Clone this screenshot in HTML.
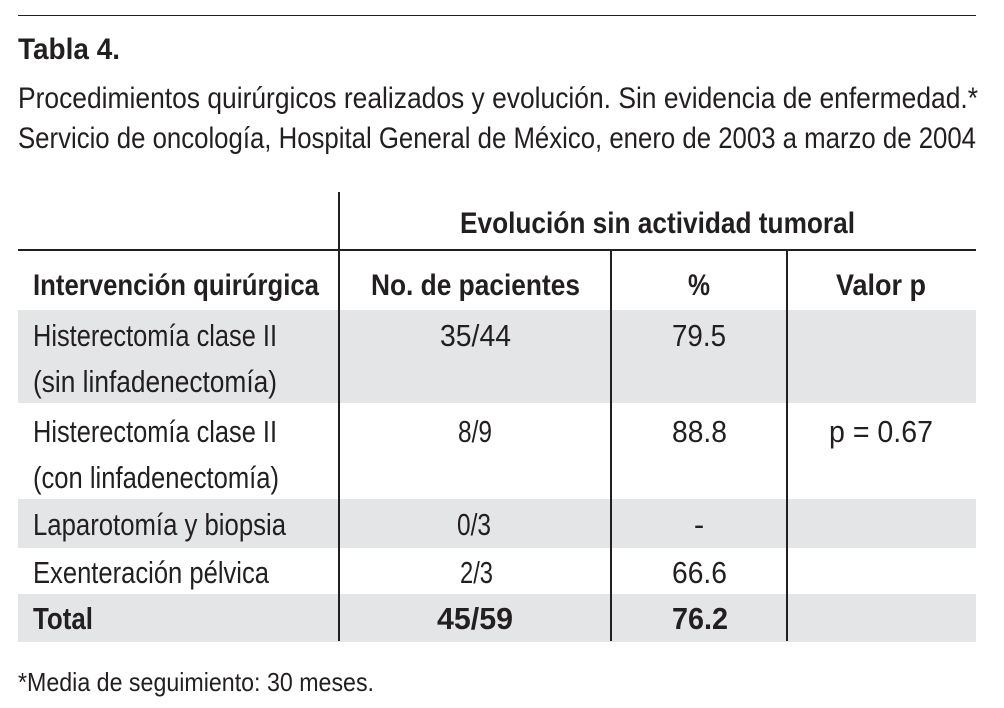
<!DOCTYPE html>
<html><head><meta charset="utf-8"><style>
html,body{margin:0;padding:0;background:#fff;}
svg{display:block;}
text{font-family:"Liberation Sans",sans-serif;fill:#231f20;}
.b{font-weight:bold;}
</style></head><body>
<svg width="1004" height="708" viewBox="0 0 1004 708">
<line x1="18" y1="15.5" x2="976" y2="15.5" stroke="#231f20" stroke-width="1"/>
<text class="b" x="18" y="59" font-size="30" textLength="102" lengthAdjust="spacingAndGlyphs">Tabla 4.</text>
<text x="18" y="108" font-size="30" textLength="960" lengthAdjust="spacingAndGlyphs">Procedimientos quirúrgicos realizados y evolución. Sin evidencia de enfermedad.*</text>
<text x="18" y="148" font-size="30" textLength="958" lengthAdjust="spacingAndGlyphs">Servicio de oncología, Hospital General de México, enero de 2003 a marzo de 2004</text>

<g>
<rect x="18" y="310" width="958" height="93" fill="#e4e5e7"/>
<rect x="18" y="499" width="958" height="49" fill="#e4e5e7"/>
<rect x="18" y="594" width="958" height="48" fill="#e4e5e7"/>
</g>
<g stroke="#231f20" stroke-width="2">
<line x1="18" y1="250" x2="976" y2="250"/>
<line x1="339" y1="192" x2="339" y2="641"/>
<line x1="611" y1="250" x2="611" y2="641"/>
<line x1="787" y1="250" x2="787" y2="641"/>
</g>

<text class="b" x="460" y="233" font-size="30" textLength="395" lengthAdjust="spacingAndGlyphs">Evolución sin actividad tumoral</text>
<text class="b" x="33" y="295" font-size="30" textLength="286" lengthAdjust="spacingAndGlyphs">Intervención quirúrgica</text>
<text class="b" x="371" y="295" font-size="30" textLength="209" lengthAdjust="spacingAndGlyphs">No. de pacientes</text>
<text class="b" x="688" y="295" font-size="30" textLength="22" lengthAdjust="spacingAndGlyphs">%</text>
<text class="b" x="836" y="295" font-size="30" textLength="90" lengthAdjust="spacingAndGlyphs">Valor p</text>

<g font-size="31">
<text x="33" y="346" textLength="244" lengthAdjust="spacingAndGlyphs">Histerectomía clase II</text>
<text x="33" y="392" textLength="244" lengthAdjust="spacingAndGlyphs">(sin linfadenectomía)</text>
<text x="440" y="346" textLength="71" lengthAdjust="spacingAndGlyphs">35/44</text>
<text x="672" y="346" textLength="54" lengthAdjust="spacingAndGlyphs">79.5</text>

<text x="33" y="442" textLength="244" lengthAdjust="spacingAndGlyphs">Histerectomía clase II</text>
<text x="33" y="488" textLength="246" lengthAdjust="spacingAndGlyphs">(con linfadenectomía)</text>
<text x="458" y="442" textLength="34" lengthAdjust="spacingAndGlyphs">8/9</text>
<text x="672" y="442" textLength="55" lengthAdjust="spacingAndGlyphs">88.8</text>
<text x="829" y="442" textLength="104" lengthAdjust="spacingAndGlyphs">p = 0.67</text>

<text x="33" y="535" textLength="253" lengthAdjust="spacingAndGlyphs">Laparotomía y biopsia</text>
<text x="457" y="535" textLength="34" lengthAdjust="spacingAndGlyphs">0/3</text>
<text x="699" y="535" text-anchor="middle">-</text>

<text x="33" y="583" textLength="236" lengthAdjust="spacingAndGlyphs">Exenteración pélvica</text>
<text x="460" y="583" textLength="33" lengthAdjust="spacingAndGlyphs">2/3</text>
<text x="672" y="583" textLength="55" lengthAdjust="spacingAndGlyphs">66.6</text>

<text class="b" x="33" y="629" textLength="60" lengthAdjust="spacingAndGlyphs">Total</text>
<text class="b" x="437" y="629" textLength="76" lengthAdjust="spacingAndGlyphs">45/59</text>
<text class="b" x="672" y="629" textLength="56" lengthAdjust="spacingAndGlyphs">76.2</text>
</g>

<text x="18" y="691" font-size="26" textLength="356" lengthAdjust="spacingAndGlyphs">*Media de seguimiento: 30 meses.</text>
</svg>
</body></html>
